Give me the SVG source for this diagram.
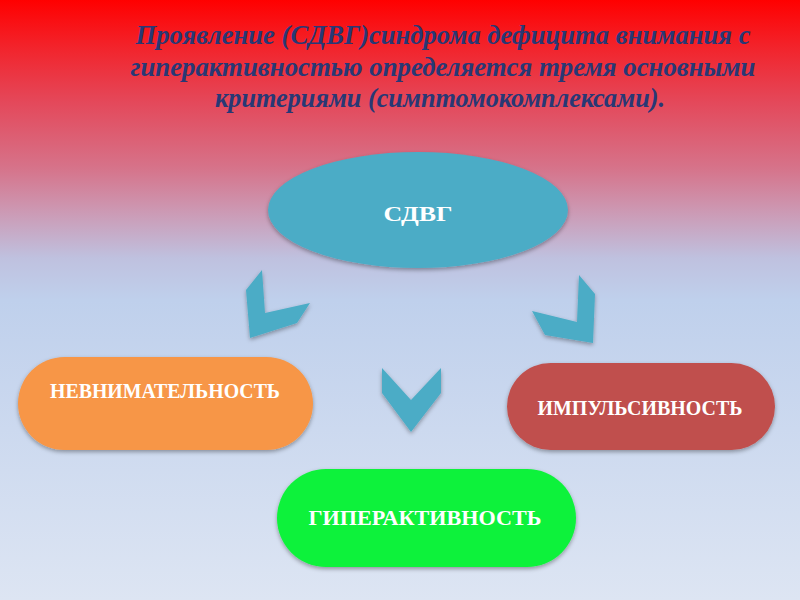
<svg xmlns="http://www.w3.org/2000/svg" width="800" height="600" viewBox="0 0 800 600">
  <defs>
    <linearGradient id="bg" x1="0" y1="0" x2="0" y2="1">
      <stop offset="0" stop-color="#ff0000"/>
      <stop offset="0.08" stop-color="#f2242c"/>
      <stop offset="0.17" stop-color="#e4485a"/>
      <stop offset="0.28" stop-color="#d6738a"/>
      <stop offset="0.36" stop-color="#cb9db8"/>
      <stop offset="0.43" stop-color="#bfc1df"/>
      <stop offset="0.5" stop-color="#bfd0ec"/>
      <stop offset="1" stop-color="#dde5f3"/>
    </linearGradient>
    <filter id="sh" x="-10%" y="-10%" width="120%" height="130%">
      <feDropShadow dx="0" dy="2" stdDeviation="2" flood-color="#000" flood-opacity="0.35"/>
    </filter>
  </defs>
  <style>
    .title { font-family: "Liberation Serif", "DejaVu Serif", serif; font-style: italic; font-weight: bold; font-size: 27px; fill: #283875; text-anchor: middle; }
    .lbl { font-family: "Liberation Serif", "DejaVu Serif", serif; font-weight: bold; font-size: 20px; fill: #ffffff; text-anchor: middle; }
    .chev { fill: #4bacc6; filter: url(#sh); }
  </style>
  <rect x="0" y="0" width="800" height="600" fill="url(#bg)"/>

  <g id="title">
    <text class="title" x="443" y="44" textLength="615" lengthAdjust="spacingAndGlyphs">Проявление (СДВГ)синдрома дефицита внимания с</text>
    <text class="title" x="443" y="76" textLength="625" lengthAdjust="spacingAndGlyphs">гиперактивностью определяется тремя основными</text>
    <text class="title" x="440" y="107" textLength="450" lengthAdjust="spacingAndGlyphs">критериями (симптомокомплексами).</text>
  </g>

  <g id="connectors">
    <polygon class="chev" points="246,290 262,270 265,313 310,303 297,323 250,338"/>
    <polygon class="chev" points="532,311 577,322 579,275 595,294 593,343 545,335"/>
    <polygon class="chev" points="382,368 411,400 441,368 441,393 411,432 382,393"/>
  </g>

  <g id="node-sdvg">
    <ellipse cx="418" cy="210" rx="150" ry="58" fill="#4bacc6" filter="url(#sh)"/>
    <text class="lbl" x="418" y="221" font-size="28" textLength="69" lengthAdjust="spacingAndGlyphs">СДВГ</text>
  </g>

  <g id="node-nevnimatelnost">
    <rect x="18" y="357" width="295" height="93" rx="46.5" fill="#f79646" filter="url(#sh)"/>
    <text class="lbl" x="165" y="398" textLength="230" lengthAdjust="spacingAndGlyphs">НЕВНИМАТЕЛЬНОСТЬ</text>
  </g>

  <g id="node-impulsivnost">
    <rect x="507" y="363" width="268" height="87" rx="43.5" fill="#c0504d" filter="url(#sh)"/>
    <text class="lbl" x="640" y="415" textLength="205" lengthAdjust="spacingAndGlyphs">ИМПУЛЬСИВНОСТЬ</text>
  </g>

  <g id="node-giperaktivnost">
    <rect x="277" y="469" width="299" height="98" rx="49" fill="#0ef23a" filter="url(#sh)"/>
    <text class="lbl" x="425" y="525" textLength="233" lengthAdjust="spacingAndGlyphs">ГИПЕРАКТИВНОСТЬ</text>
  </g>
</svg>
